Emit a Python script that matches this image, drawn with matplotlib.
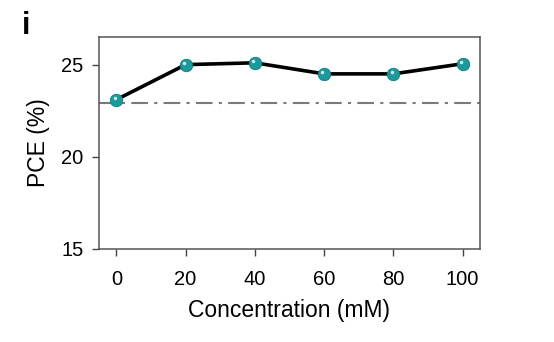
import matplotlib.pyplot as plt
import matplotlib.transforms as mtransforms

plt.rcParams['font.family'] = ['Liberation Sans', 'DejaVu Sans']

# data
conc = [0, 20, 40, 60, 80, 100]
pce = [23.1, 25.0, 25.1, 24.5, 24.5, 25.05]
control = 22.9

fig = plt.figure(figsize=(5.54, 3.42), dpi=100)
ax = fig.add_axes([99/554, 1 - 249/342, 381/554, 212/342])

ax.axhline(control, color='#7a7a7a', lw=1.5, ls=(0, (8, 3, 1.5, 3)), zorder=1)
ax.plot(conc, pce, color='black', lw=2.6, zorder=2)
ax.plot(conc, pce, 'o', ms=9, mfc='#1a9a9c', mec='#0f7f80', mew=0.6, zorder=3)
# little highlight on each bead
shift = mtransforms.ScaledTranslation(-1.2/72, 1.2/72, fig.dpi_scale_trans)
ax.plot(conc, pce, 'o', ms=2.5, mfc='white', mec='none', alpha=0.8, zorder=4,
        transform=ax.transData + shift)

ax.set_xlim(-5, 105)
ax.set_ylim(15, 26.5)
ax.set_xticks(conc)
ax.set_yticks([15, 20, 25])
ax.tick_params(direction='out', length=5, width=1, colors='#444444',
               labelcolor='black', labelsize=14.5, pad=6)
ax.tick_params(axis='x', pad=10)
for s in ax.spines.values():
    s.set_color('#555555')
    s.set_linewidth(1.1)

ax.set_xlabel('Concentration (mM)', fontsize=16.5, labelpad=7)
ax.set_ylabel('PCE (%)', fontsize=16.5, labelpad=8)

fig.text(22/554, 1 - 34/342, 'i', fontsize=22, fontweight='bold')

fig.savefig('out.png', dpi=100)
